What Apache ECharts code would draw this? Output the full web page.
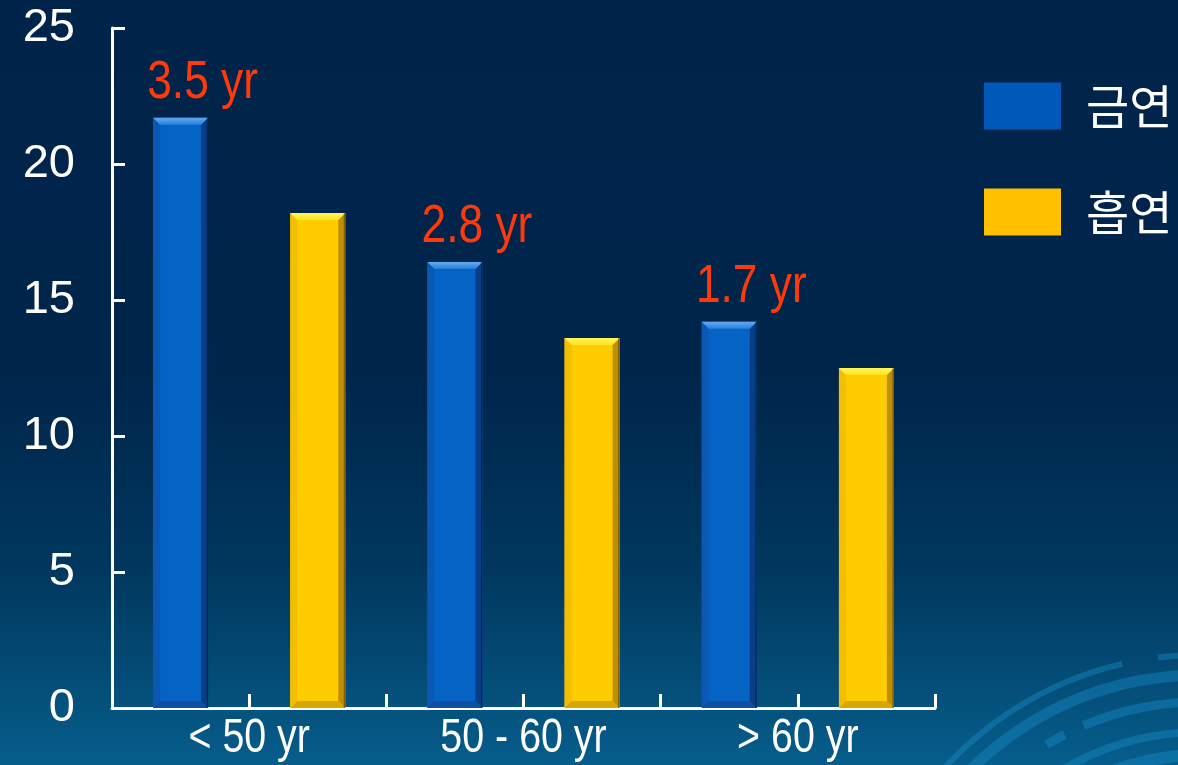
<!DOCTYPE html>
<html>
<head>
<meta charset="utf-8">
<script src="https://cdn.jsdelivr.net/npm/echarts@6/dist/echarts.min.js"></script>
<style>
  html, body { margin: 0; padding: 0; }
  #chart { width: 1178px; height: 765px; }
</style>
</head>
<body>
<div id="chart"></div>
<script>
// Age groups on the x axis
const categories = ['< 50 yr', '50 - 60 yr', '> 60 yr'];
// Series names (quit smoking / smoking)
const seriesNames = ['금연', '흡연'];
// Bar values per age group
const quitValues = [21.7, 16.4, 14.2];
const smokeValues = [18.2, 13.6, 12.5];
// Gap annotations above the quit bars
const gapLabels = ['3.5 yr', '2.8 yr', '1.7 yr'];
// Value axis range
const yMin = 0;
const yMax = 25;
const yStep = 5;
// Sub-slots used only for the tick marks along the x axis
const tickSlots = ['', '', '', '', '', ''];

const sans = "'Liberation Sans', Arial, sans-serif";
const kr = "'Noto Sans CJK KR', sans-serif";
// Arial squeezed horizontally gives the narrow face used for the annotations
const NARROW = 0.82;

const BAR_W = 55;
const BEVEL = 7;

const palette = {
  quit: { body: '#0563c5', top: ['#62acf4', '#2a7ed9'], left: '#0a58b4', right: '#073e86', bottom: '#0f4f9e', legend: '#0058b8' },
  smoke: { body: '#ffcc00', top: ['#fff65e', '#ffe41c'], left: '#f3bd00', right: '#bf8f00', bottom: '#d9a600', legend: '#ffc000' }
};

// Bevelled edges over each bar, positioned through the axes
function bevelRenderer(side, pal, withLabel) {
  return function (params, api) {
    const idx = api.value(0);
    const val = api.value(1);
    const topPt = api.coord([idx, val]);
    const basePt = api.coord([idx, 0]);
    const slot = api.size([1, 0])[0] / 2;
    const cx = topPt[0] + side * slot / 2;
    const l = cx - BAR_W / 2, r = cx + BAR_W / 2;
    const t = topPt[1], b = basePt[1];
    const e = BEVEL;
    const children = [
      { type: 'polygon', shape: { points: [[l, t], [l + e, t + e], [l + e, b - e], [l, b]] }, style: { fill: pal.left } },
      { type: 'polygon', shape: { points: [[r, t], [r - e, t + e], [r - e, b - e], [r, b]] }, style: { fill: pal.right } },
      { type: 'polygon', shape: { points: [[l, b], [l + e, b - e], [r - e, b - e], [r, b]] }, style: { fill: pal.bottom } },
      { type: 'polygon', shape: { points: [[l, t], [r, t], [r - e, t + e], [l + e, t + e]] },
        style: { fill: { type: 'linear', x: 0, y: 0, x2: 0, y2: 1, colorStops: [
          { offset: 0, color: pal.top[0] }, { offset: 1, color: pal.top[1] }] } } },
      { type: 'rect', shape: { x: r - 1.5, y: t, width: 1.5, height: b - t }, style: { fill: 'rgba(0,0,0,0.35)' } }
    ];
    if (withLabel) {
      children.push({
        type: 'text',
        x: cx + 22,
        y: t - 8,
        scaleX: NARROW,
        style: {
          text: gapLabels[params.dataIndex],
          fill: '#ff3a0a',
          fontSize: 54,
          fontFamily: sans,
          align: 'center',
          verticalAlign: 'bottom'
        }
      });
    }
    return { type: 'group', children };
  };
}

// Category names under the x axis in the narrow face
function categoryLabelRenderer(params, api) {
  const pt = api.coord([api.value(0), 0]);
  return {
    type: 'text',
    x: pt[0],
    y: pt[1] + 31,
    scaleX: NARROW,
    style: {
      text: categories[params.dataIndex],
      fill: '#ffffff',
      fontSize: 48,
      fontFamily: sans,
      align: 'center',
      verticalAlign: 'middle'
    }
  };
}

const chart = echarts.init(document.getElementById('chart'));

const swirl = [
  { r: 345, w: 6, a0: -142, a1: -103 },
  { r: 345, w: 6, a0: -97, a1: -70 },
  { r: 325, w: 11, a0: -142, a1: -60 },
  { r: 298, w: 9, a0: -121, a1: -117 },
  { r: 298, w: 9, a0: -113, a1: -60 },
  { r: 268, w: 8, a0: -125, a1: -60 },
  { r: 245, w: 12, a0: -112, a1: -60 }
].map(s => ({
  type: 'arc',
  silent: true,
  z: -10,
  shape: { cx: 1200, cy: 1000, r: s.r, startAngle: s.a0 * Math.PI / 180, endAngle: s.a1 * Math.PI / 180, clockwise: true },
  style: { stroke: 'rgba(25,140,200,0.42)', lineWidth: s.w, fill: null }
}));

chart.setOption({
  backgroundColor: {
    type: 'linear', x: 0, y: 0, x2: 0, y2: 1,
    colorStops: [
      { offset: 0, color: '#00234a' },
      { offset: 0.5, color: '#00264c' },
      { offset: 0.75, color: '#01385f' },
      { offset: 1, color: '#065d8b' }
    ]
  },
  animation: false,
  graphic: swirl,
  grid: { left: 112, right: 243, top: 28, bottom: 57, containLabel: false },
  legend: {
    orient: 'vertical',
    left: 984,
    top: 72,
    padding: 0,
    itemWidth: 77,
    itemHeight: 47,
    itemGap: 38,
    icon: 'rect',
    data: [
      { name: seriesNames[0], itemStyle: { color: palette.quit.legend } },
      { name: seriesNames[1], itemStyle: { color: palette.smoke.legend } }
    ],
    textStyle: { color: '#ffffff', fontSize: 47, fontFamily: kr, lineHeight: 47, padding: [0, 0, 21, 20] }
  },
  xAxis: [
    {
      type: 'category',
      data: categories,
      axisLine: { lineStyle: { color: '#ffffff', width: 3 } },
      axisTick: { show: false },
      axisLabel: { show: false }
    },
    {
      type: 'category',
      data: tickSlots,
      position: 'bottom',
      axisLine: { show: false },
      axisTick: { show: true, inside: true, length: 14, lineStyle: { color: '#ffffff', width: 3 } },
      axisLabel: { show: false }
    }
  ],
  yAxis: {
    type: 'value',
    min: yMin,
    max: yMax,
    interval: yStep,
    axisLine: { show: true, lineStyle: { color: '#ffffff', width: 3 } },
    axisTick: { show: true, inside: true, length: 13, lineStyle: { color: '#ffffff', width: 3 } },
    splitLine: { show: false },
    axisLabel: { color: '#ffffff', fontSize: 47, fontFamily: sans, margin: 37 }
  },
  series: [
    {
      name: seriesNames[0],
      type: 'bar',
      data: quitValues,
      barWidth: BAR_W,
      barGap: '149.5%',
      itemStyle: { color: palette.quit.body },
      z: 2
    },
    {
      name: seriesNames[1],
      type: 'bar',
      data: smokeValues,
      barWidth: BAR_W,
      barGap: '149.5%',
      itemStyle: { color: palette.smoke.body },
      z: 2
    },
    {
      name: 'quit-bevel',
      type: 'custom',
      data: quitValues.map((v, i) => [i, v]),
      renderItem: bevelRenderer(-1, palette.quit, true),
      silent: true,
      z: 3
    },
    {
      name: 'smoke-bevel',
      type: 'custom',
      data: smokeValues.map((v, i) => [i, v]),
      renderItem: bevelRenderer(1, palette.smoke, false),
      silent: true,
      z: 3
    },
    {
      name: 'category-labels',
      type: 'custom',
      data: categories.map((c, i) => [i, 0]),
      renderItem: categoryLabelRenderer,
      silent: true,
      clip: false,
      z: 3
    }
  ]
});
</script>
</body>
</html>
